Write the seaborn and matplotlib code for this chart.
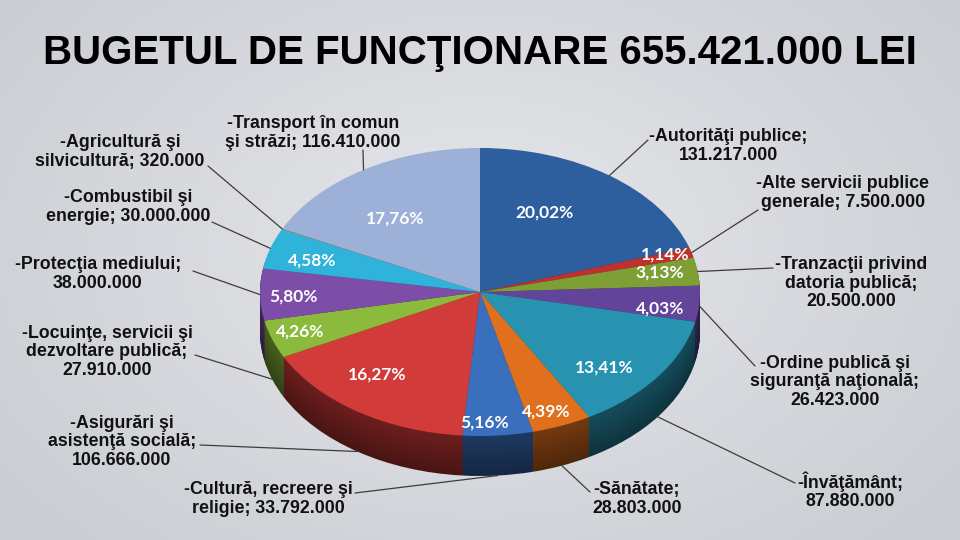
import numpy as np
import matplotlib
matplotlib.use("Agg")
import matplotlib.pyplot as plt
import matplotlib.colors as mcolors
import seaborn as sns

sns.set_theme(style="white")
plt.rcParams["font.family"] = ["Liberation Sans", "DejaVu Sans"]

# data
title = "BUGETUL DE FUNCŢIONARE 655.421.000 LEI"
names = [
    "Autorităţi publice",
    "Alte servicii publice\ngenerale",
    "Tranzacţii privind\ndatoria publică",
    "Ordine publică şi\nsiguranţă naţională",
    "Învăţământ",
    "Sănătate",
    "Cultură, recreere şi\nreligie",
    "Asigurări şi\nasistenţă socială",
    "Locuinţe, servicii şi\ndezvoltare publică",
    "Protecţia mediului",
    "Combustibil şi\nenergie",
    "Agricultură şi\nsilvicultură",
    "Transport în comun\nşi străzi",
]
amounts = [131217000, 7500000, 20500000, 26423000, 87880000, 28803000, 33792000,
           106666000, 27910000, 38000000, 30000000, 320000, 116410000]
colors = ["#2D5F9E", "#C0312D", "#7E9F35", "#62459A", "#2893B0", "#E0701E", "#3A6FBE",
          "#D13B39", "#8CBA3C", "#7D4EA8", "#30B3DA", "#F08A2A", "#9DB1D8"]

# layout (pixel positions in the 960x540 picture)
sep = ["\n", " ", "\n", "\n", "\n", "\n", " ", "\n", "\n", "\n", " ", " ", " "]
label_pos = [(728, 146), (843, 193), (851, 283), (835, 382), (850, 491), (637, 499),
             (268, 499), (122, 442), (107, 352), (98, 274), (128, 207), (120, 152), (313, 133)]
line_end = [(648, 140), (758, 210), (773, 268), (755, 366), (795, 483), (590, 492),
            (355, 493), (200, 445), (195, 355), (193, 271), (212, 222), (208, 166), (363, 150)]
side_frac = [0, 0, 0, 0.05, 1, 1, 1, 1, 1, 0, 0, 0, 0]
pct_pos = [(545, 213), (665, 255), (660, 273), (660, 309), (604, 368), (546, 412),
           (485, 423), (377, 375), (300, 332), (293, 297), (312, 261), (0, 0), (395, 219)]

CX, CY, RX, RY = 480, 292, 220, 144
DEPTH = 40 / RY


def P(x, y):
    return (x - CX) / RX, (CY - y) / RY


def fmt_amount(v):
    return f"{v:,}".replace(",", ".")


def fmt_pct(p):
    return (f"{p:.2f}".replace(".", ",") + "%") if p >= 0.5 else ""


fig = plt.figure(figsize=(9.6, 5.4), dpi=100)

# background gradient
bg = fig.add_axes([0, 0, 1, 1], zorder=-1)
yy, xx = np.mgrid[0:540, 0:960]
r = np.sqrt(((xx - 480) / 620) ** 2 + ((yy - 250) / 420) ** 2)
r = np.clip(r, 0, 1)
c0 = np.array(mcolors.to_rgb("#E6E7EB"))
c1 = np.array(mcolors.to_rgb("#C9CCD2"))
img = c0[None, None, :] * (1 - r[..., None]) + c1[None, None, :] * r[..., None]
bg.imshow(img, aspect="auto", extent=(0, 960, 540, 0))
bg.axis("off")

ax = fig.add_axes([0, 0, 1, 1])
ax.patch.set_alpha(0)

# side of the pie: stacked darker layers
n = 40
for k in range(n, 0, -1):
    f = 0.52 - 0.17 * k / n
    side_cols = [tuple(np.array(mcolors.to_rgb(c)) * f) for c in colors]
    ax.pie(amounts, colors=side_cols, startangle=90, counterclock=False,
           center=(0, -DEPTH * k / n), radius=1, wedgeprops=dict(linewidth=0))

# top face
wedges, texts, autotexts = ax.pie(
    amounts, colors=colors, startangle=90, counterclock=False, radius=1,
    autopct=fmt_pct, wedgeprops=dict(linewidth=0),
    textprops=dict(color="white", fontsize=12.5, fontweight="bold", family=["Lato", "DejaVu Sans"]))

for t, pos in zip(autotexts, pct_pos):
    t.set_position(P(*pos))
    t.set_ha("center")
    t.set_va("center")

# outside labels with leader lines
for i, w in enumerate(wedges):
    mid = np.deg2rad((w.theta1 + w.theta2) / 2)
    rim = (np.cos(mid), np.sin(mid) - DEPTH * side_frac[i])
    ax.annotate("", xy=rim, xytext=P(*line_end[i]),
                arrowprops=dict(arrowstyle="-", color="#3C3C3C", lw=0.9, shrinkA=0, shrinkB=0))
    label = f"-{names[i]};{sep[i]}{fmt_amount(amounts[i])}"
    ax.text(*P(*label_pos[i]), label, ha="center", va="center", fontsize=12.8,
            fontweight="bold", color="#111111", linespacing=1.08)

ax.text(*P(480, 53), title, ha="center", va="center", fontsize=29,
        fontweight="bold", color="black")

ax.set_aspect("auto")
ax.set_xlim(-CX / RX, (960 - CX) / RX)
ax.set_ylim((CY - 540) / RY, CY / RY)
ax.axis("off")

fig.savefig("out.png", dpi=100)
